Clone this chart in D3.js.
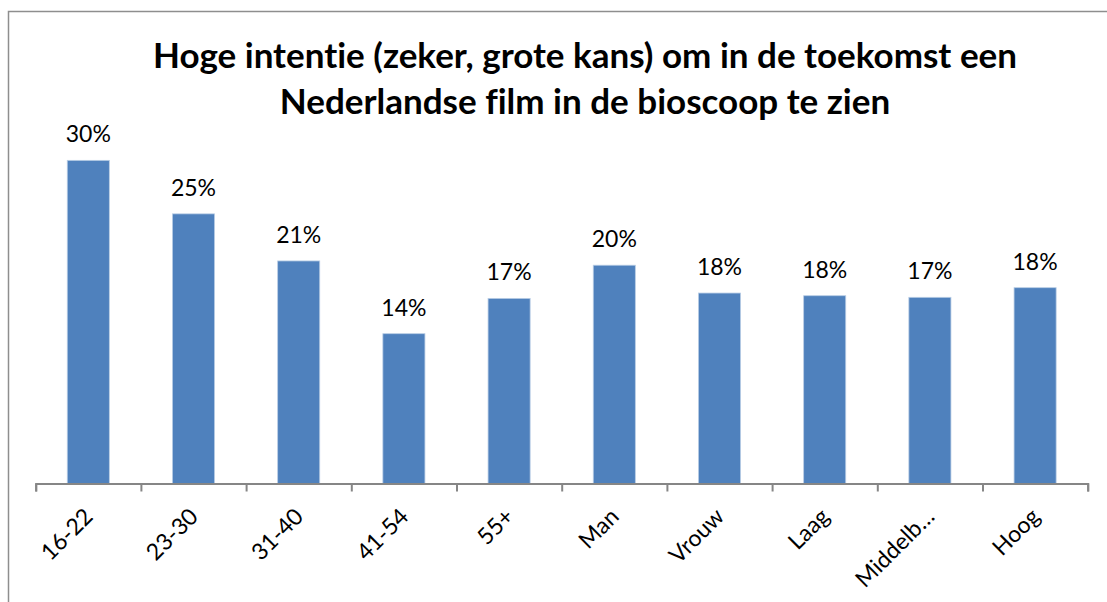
<!DOCTYPE html>
<html>
<head>
<meta charset="utf-8">
<script src="https://cdnjs.cloudflare.com/ajax/libs/d3/7.8.5/d3.min.js"></script>
<style>
  body { margin: 0; background: #fff; }
  text { font-family: Lato, "Open Sans", sans-serif; fill: #000; font-variant-ligatures: none; }
</style>
</head>
<body>
<div id="the_chart"></div>
<script>
// data
var categories = ["16-22", "23-30", "31-40", "41-54", "55+", "Man", "Vrouw", "Laag", "Middelb\u2026", "Hoog"];
var values = [0.302, 0.252, 0.208, 0.140, 0.173, 0.204, 0.178, 0.1755, 0.174, 0.183];
var titleLines = ["Hoge intentie (zeker, grote kans) om in de toekomst een",
                  "Nederlandse film in de bioscoop te zien"];

var w = 1107;
var h = 602;

var svg = d3.select("#the_chart")
    .append("svg")
    .attr("width", w)
    .attr("height", h);

// chart frame (runs off the right and bottom of the picture)
svg.append("rect")
    .attr("x", 8.5)
    .attr("y", 11.5)
    .attr("width", 1130)
    .attr("height", 620)
    .attr("fill", "none")
    .attr("stroke", "#8e8e8e")
    .attr("stroke-width", 1.5);

// title
svg.selectAll("text.title")
    .data(titleLines)
    .enter().append("text")
    .attr("class", "title")
    .attr("x", 585)
    .attr("y", function(d, i) { return 68 + i * 46; })
    .attr("text-anchor", "middle")
    .attr("font-size", "35px")
    .attr("font-weight", "bold")
    .text(function(d) { return d; });

var xscale = d3.scaleBand()
    .domain(categories)
    .range([35.7, 1087.7])
    .paddingInner(0.6)
    .paddingOuter(0.3);

var hscale = d3.scaleLinear()
    .domain([0, 0.35])
    .range([483.5, 109]);

// bars
svg.selectAll("rect.bar")
    .data(values)
    .enter().append("rect")
    .attr("class", "bar")
    .attr("x", function(d, i) { return xscale(categories[i]); })
    .attr("y", function(d) { return hscale(d); })
    .attr("width", xscale.bandwidth())
    .attr("height", function(d) { return hscale(0) - hscale(d); })
    .attr("fill", "#4f81bd")
    .attr("stroke", "#b9cde5")
    .attr("stroke-width", 0.8);

// value labels
svg.selectAll("text.val")
    .data(values)
    .enter().append("text")
    .attr("class", "val")
    .attr("x", function(d, i) { return xscale(categories[i]) + xscale.bandwidth() / 2; })
    .attr("y", function(d) { return hscale(d) - 18; })
    .attr("text-anchor", "middle")
    .attr("font-size", "23px")
    .text(d3.format(".0%"));

// x axis with ticks between categories
var tickScale = d3.scaleLinear()
    .domain([0, categories.length])
    .range([35.7, 1087.7]);

var xaxis = d3.axisBottom(tickScale)
    .tickValues(d3.range(categories.length + 1))
    .tickSize(8)
    .tickFormat("");

var gx = svg.append("g")
    .attr("transform", "translate(0," + hscale(0) + ")")
    .call(xaxis);
gx.select(".domain").attr("stroke", "#868686").attr("stroke-width", 2);
gx.selectAll(".tick line").attr("stroke", "#868686").attr("stroke-width", 2);

// rotated category labels
svg.selectAll("text.cat")
    .data(categories)
    .enter().append("text")
    .attr("class", "cat")
    .attr("text-anchor", "end")
    .attr("font-size", "23px")
    .attr("transform", function(d) {
        var cx = xscale(d) + xscale.bandwidth() / 2 + 6;
        return "translate(" + cx + ",518) rotate(-45)";
    })
    .text(function(d) { return d; });
</script>
</body>
</html>
